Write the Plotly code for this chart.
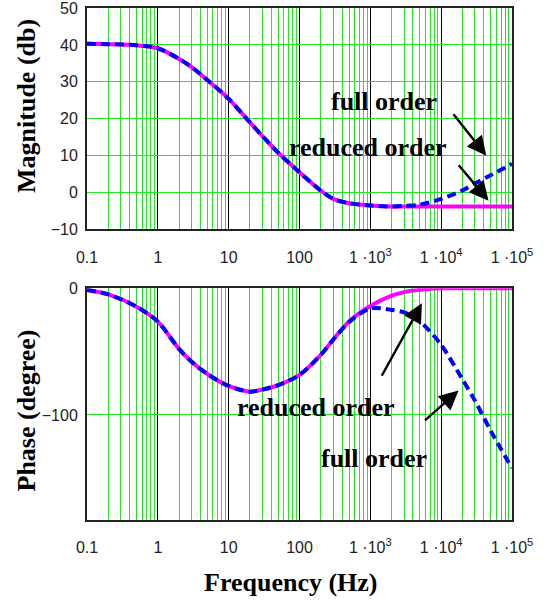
import plotly.graph_objects as go

# ---------------- data ----------------
freq = [0.1, 0.2, 0.5, 1, 2, 3, 5, 10, 20, 30, 50, 100, 200, 300, 500,
        1e3, 2e3, 3e3, 5e3, 1e4, 2e4, 3e4, 5e4, 1e5]

mag_reduced = [40.3, 40.2, 39.9, 39.1, 36.2, 34.0, 30.5, 25.4, 19.0, 15.3, 10.8,
               5.5, 0.5, -1.7, -2.9, -3.5, -3.8, -3.8, -3.8, -3.8, -3.8, -3.8,
               -3.8, -3.8]
mag_full = [40.3, 40.2, 39.9, 39.1, 36.2, 34.0, 30.5, 25.4, 19.0, 15.3, 10.8,
            5.5, 0.5, -1.7, -2.9, -3.5, -3.8, -3.6, -3.3, -1.7, 0.6, 2.5,
            4.7, 7.8]

phase_reduced = [-1.3, -4.8, -14.5, -26.3, -48.0, -58.0, -67.7, -77.1, -81.6,
                 -80.0, -76.5, -68.4, -52.6, -40.4, -26.2, -14.0, -5.8, -3.0,
                 -1.2, 0, 0, 0, 0, 0]
phase_full = [-1.3, -4.8, -14.5, -26.3, -48.0, -58.0, -67.7, -77.1, -81.6,
              -80.0, -76.5, -68.4, -52.6, -40.4, -26.8, -15.8, -17.1, -19.0,
              -26.0, -44.7, -72.0, -88.7, -112.5, -142.0]

x_tickvals = [0.1, 1, 10, 100, 1e3, 1e4, 1e5]
x_ticktext = ["0.1", "1", "10", "100", "1 \u00b710<sup>3</sup>",
              "1 \u00b710<sup>4</sup>", "1 \u00b710<sup>5</sup>"]

# ---------------- styles ----------------
GREEN = "#1ee81e"
MAGENTA = "#ff00ff"
BLUE = "#0000ff"
SERIF = "Liberation Serif, Times New Roman, serif"
SANS = "Liberation Sans, Arial, sans-serif"

fig = go.Figure()

fig.add_trace(go.Scatter(x=freq, y=mag_reduced, mode="lines", name="reduced order",
                         line=dict(color=MAGENTA, width=4, shape="spline", smoothing=0.8),
                         xaxis="x", yaxis="y"))
fig.add_trace(go.Scatter(x=freq, y=mag_full, mode="lines", name="full order",
                         line=dict(color=BLUE, width=4, dash="9px,5px", shape="spline", smoothing=0.8),
                         xaxis="x", yaxis="y"))
fig.add_trace(go.Scatter(x=freq, y=phase_reduced, mode="lines", name="reduced order",
                         line=dict(color=MAGENTA, width=4, shape="spline", smoothing=0.8),
                         xaxis="x2", yaxis="y2"))
fig.add_trace(go.Scatter(x=freq, y=phase_full, mode="lines", name="full order",
                         line=dict(color=BLUE, width=4, dash="9px,5px", shape="spline", smoothing=0.8),
                         xaxis="x2", yaxis="y2"))

xaxis_common = dict(
    type="log", range=[-1, 5],
    tickmode="array", tickvals=x_tickvals, ticktext=x_ticktext,
    showgrid=True, gridcolor="black", gridwidth=1,
    minor=dict(dtick="D1", showgrid=True, gridcolor=GREEN, gridwidth=1, ticks=""),
    showline=True, linecolor="#222", linewidth=2, mirror=True,
    ticks="", ticklabelstandoff=12, ticklabeloverflow="allow",
    tickfont=dict(family=SANS, size=16, color="#222"),
    zeroline=False,
)

yaxis_common = dict(
    showgrid=True, gridcolor=GREEN, gridwidth=1,
    showline=True, linecolor="#222", linewidth=2, mirror=True,
    ticks="", ticklabelstandoff=4, ticklabeloverflow="allow",
    tickfont=dict(family=SANS, size=16, color="#222"),
    zeroline=False,
)

fig.update_layout(
    width=551, height=601,
    margin=dict(l=87, r=39, t=8, b=81, autoexpand=False),
    paper_bgcolor="white", plot_bgcolor="white",
    showlegend=False,
    xaxis=dict(**xaxis_common, domain=[0, 1], anchor="y"),
    yaxis=dict(**yaxis_common, domain=[0.5674, 1], range=[-10, 50], dtick=10, anchor="x"),
    xaxis2=dict(**xaxis_common, domain=[0, 1], anchor="y2"),
    yaxis2=dict(**yaxis_common, domain=[0, 0.4525], range=[-183, 0],
                tickvals=[-100, 0], anchor="x2"),
)

ann_font = dict(family=SERIF, size=26, color="black")
annotations = [
    # axis titles
    dict(text="<b>Magnitude (db)</b>", xref="paper", yref="paper", x=-0.1424, y=0.8096,
         textangle=-90, showarrow=False, font=ann_font, xanchor="center", yanchor="middle"),
    dict(text="<b>Phase (degree)</b>", xref="paper", yref="paper", x=-0.1424, y=0.2148,
         textangle=-90, showarrow=False, font=ann_font, xanchor="center", yanchor="middle"),
    dict(text="<b>Frequency (Hz)</b>", xref="paper", yref="paper", x=0.4805, y=-0.1211,
         showarrow=False, font=ann_font, xanchor="center", yanchor="middle"),
    # labels
    dict(text="<b>full order</b>", xref="x", yref="y", x=3.195, y=24.7,
         showarrow=False, font=ann_font),
    dict(text="<b>reduced order</b>", xref="x", yref="y", x=2.962, y=12.2,
         showarrow=False, font=ann_font),
    dict(text="<b>reduced order</b>", xref="x2", yref="y2", x=2.233, y=-94.5,
         showarrow=False, font=ann_font),
    dict(text="<b>full order</b>", xref="x2", yref="y2", x=3.046, y=-134.7,
         showarrow=False, font=ann_font),
]
arrow_style = dict(text="", showarrow=True, arrowhead=2, arrowsize=1.6,
                   arrowwidth=2.4, arrowcolor="black", axref="pixel", ayref="pixel")
annotations += [
    dict(xref="x", yref="y", x=4.637, y=10.0, ax=-34, ay=-43, **arrow_style),
    dict(xref="x", yref="y", x=4.669, y=-2.2, ax=-31, ay=-37, **arrow_style),
    dict(xref="x2", yref="y2", x=3.728, y=-11.8, ax=-41, ay=74, **arrow_style),
    dict(xref="x2", yref="y2", x=4.245, y=-80.8, ax=-35, ay=31, **arrow_style),
]
fig.update_layout(annotations=annotations)

fig.write_html("out.html")
